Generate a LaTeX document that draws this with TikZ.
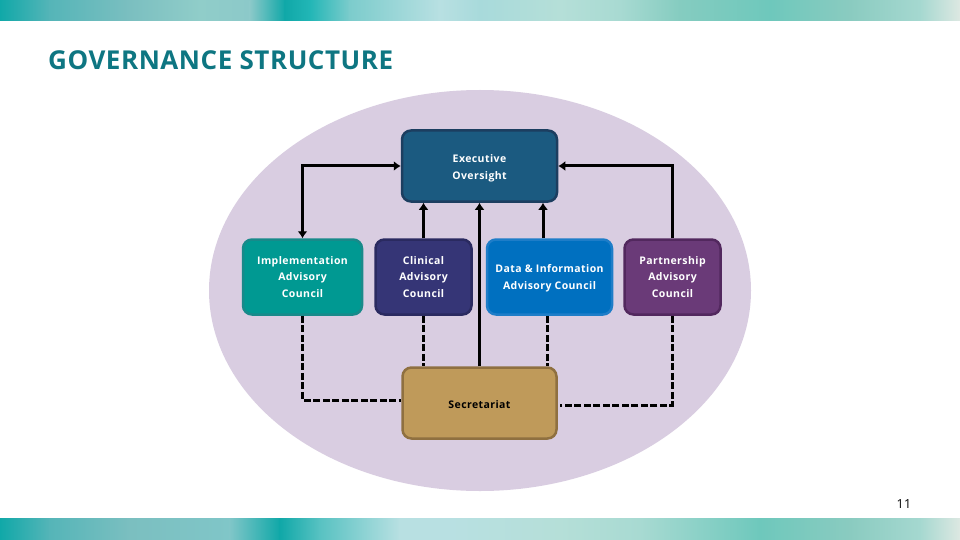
\documentclass[tikz,border=0pt]{standalone}
\usepackage{fontspec}
\setmainfont{Open Sans}
\usetikzlibrary{shapes.geometric,arrows.meta}
\definecolor{s0}{HTML}{10A8A8}\definecolor{s1}{HTML}{55B5B8}\definecolor{s2}{HTML}{7BBFC0}
\definecolor{s3}{HTML}{90CDC9}\definecolor{s4}{HTML}{8CC9C9}\definecolor{s5}{HTML}{10A8A8}
\definecolor{s6}{HTML}{22B6B6}\definecolor{s7}{HTML}{7CCCCC}\definecolor{s8}{HTML}{B8E0E2}
\definecolor{s9}{HTML}{A8DADB}\definecolor{s10}{HTML}{B5DFD8}\definecolor{s11}{HTML}{A8DAD2}
\definecolor{s12}{HTML}{85CCC0}\definecolor{s13}{HTML}{6EC8BC}\definecolor{s14}{HTML}{8ACBC0}
\definecolor{s15}{HTML}{A5D8D0}\definecolor{s16}{HTML}{DDE8E2}
\definecolor{b3}{HTML}{80C6C8}\definecolor{b7}{HTML}{58C2C2}
\definecolor{titleteal}{HTML}{0E7682}
\newcommand{\dnline}[2]{\raisebox{-#1}[\height][\depth]{#2}}
\tikzset{
  box/.style={draw,rounded corners=9pt,line width=2.5pt,align=center,font=\bfseries\addfontfeature{LetterSpace=4}\fontsize{10.5}{16.5}\selectfont,text=white,inner sep=0pt},
  link/.style={line width=3pt,draw=black},
  tip/.style={{Latex[length=7pt,width=10pt]}-{Latex[length=7pt,width=10pt]}},
  onetip/.style={-{Latex[length=7pt,width=10pt]}},
  dash link/.style={line width=3pt,draw=black,dash pattern=on 7pt off 2.5pt}
}
\begin{document}
\begin{tikzpicture}[x=1pt,y=-1pt]
\useasboundingbox (0,0) rectangle (960,540);
\fill[white] (0,0) rectangle (960,540);
\foreach \xa/\xb/\ca/\cb in {0/50/s0/s1,50/130/s1/s2,130/200/s2/s3,200/250/s3/s4,250/285/s4/s5,285/310/s5/s6,310/350/s6/s7,350/440/s7/s8,440/480/s8/s9,480/560/s9/s10,560/620/s10/s11,620/680/s11/s12,680/770/s12/s13,770/850/s13/s14,850/920/s14/s15,920/960/s15/s16}
  \shade[left color=\ca,right color=\cb] (\xa-0.3,0) rectangle (\xb,21);
\foreach \xa/\xb/\ca/\cb in {0/50/s0/s1,50/130/s1/s2,130/230/s2/b3,230/280/b3/s5,280/320/s5/b7,320/400/b7/s8,400/450/s8/s8,450/560/s8/s10,560/640/s10/s11,640/760/s11/s13,760/850/s13/s14,850/920/s14/s15,920/960/s15/s16}
  \shade[left color=\ca,right color=\cb] (\xa-0.3,518) rectangle (\xb,540);
\node[anchor=west,inner sep=0pt,text=titleteal,font=\bfseries\addfontfeature{LetterSpace=2.1}\fontsize{26}{30}\selectfont] (title) at (48,60) {GOVERNANCE STRUCTURE};
\node[ellipse,fill={rgb,255:red,217;green,205;blue,225},minimum width=542pt,minimum height=401pt,inner sep=0pt] (oval) at (480,290.5) {};
\node[box,fill={rgb,255:red,27;green,90;blue,128},draw={rgb,255:red,28;green,62;blue,96},minimum width=155pt,minimum height=71pt] (exec) at (479.5,166) {\dnline{2.5pt}{Executive}\\\dnline{2.5pt}{Oversight}};
\node[box,fill={rgb,255:red,0;green,153;blue,146},draw={rgb,255:red,24;green,138;blue,138},minimum width=119pt,minimum height=75pt] (impl) at (302.5,277) {Implementation\\Advisory\\Council};
\node[box,fill={rgb,255:red,53;green,53;blue,118},draw={rgb,255:red,42;green,42;blue,96},minimum width=96pt,minimum height=75pt] (clin) at (423.5,277) {Clinical\\Advisory\\Council};
\node[box,fill={rgb,255:red,0;green,112;blue,192},draw={rgb,255:red,30;green,125;blue,200},minimum width=125pt,minimum height=75pt] (data) at (549.5,277) {\dnline{1pt}{Data \& Information}\\\dnline{1pt}{Advisory Council}};
\node[box,fill={rgb,255:red,106;green,58;blue,120},draw={rgb,255:red,82;green,40;blue,94},minimum width=96pt,minimum height=75pt] (part) at (672.5,277) {Partnership\\Advisory\\Council};
\node[box,fill={rgb,255:red,191;green,154;blue,90},draw={rgb,255:red,143;green,112;blue,64},text=black,minimum width=154pt,minimum height=71pt] (sec) at (479.5,403) {\dnline{2pt}{Secretariat}};
\node[inner sep=0pt,font=\addfontfeature{LetterSpace=3}\fontsize{12.5}{14}\selectfont] (page) at (904,504) {11};
\draw[link,tip] (impl.north) |- (exec.west);
\draw[link,onetip] (part.north) |- (exec.east);
\draw[link,onetip] (clin.north) -- (clin.north |- exec.south);
\draw[link,onetip,line width=3.5pt] (sec.north) -- (exec.south);
\draw[link,onetip] ([xshift=-6.5pt]data.north) -- ([xshift=-6.5pt]data.north |- exec.south);
\draw[dash link] (impl.south) |- ([yshift=3pt]sec.west);
\draw[dash link] (clin.south) -- (clin.south |- sec.north);
\draw[dash link] ([xshift=-2pt]data.south) -- ([xshift=-2pt]data.south |- sec.north);
\draw[dash link] (part.south) |- ([xshift=2pt,yshift=-2pt]sec.east);
\end{tikzpicture}
\end{document}
